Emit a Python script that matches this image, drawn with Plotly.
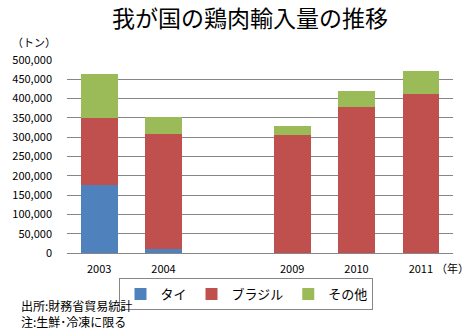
import plotly.graph_objects as go

# Chicken meat imports (tonnes); the blank slot separates 2004 from 2009
years = ["2003", "2004", " ", "2009", "2010", "2011"]
thai = [175000, 10000, None, 0, 0, 0]
brazil = [175000, 298000, None, 306000, 378000, 412000]
other = [114000, 44000, None, 23000, 42000, 59000]

series_names = ["タイ", "ブラジル", "その他"]
colors = ["#4F81BD", "#C0504D", "#9BBB59"]

y_ticks = list(range(0, 500001, 50000))
y_tick_text = [f"{v:,}" for v in y_ticks]

FONT = "Noto Sans CJK JP"

fig = go.Figure()
for name, vals, col in zip(series_names, [thai, brazil, other], colors):
    fig.add_trace(go.Bar(x=years, y=vals, name=name, marker=dict(color=col, line=dict(width=0)),
                         width=0.57))

fig.update_layout(
    barmode="stack",
    width=475, height=329,
    margin=dict(l=64, r=22, t=60, b=76),
    paper_bgcolor="white", plot_bgcolor="white",
    font=dict(family=FONT, size=11, color="#000000"),
    title=dict(text="我が国の鶏肉輸入量の推移", x=250 / 475, xanchor="center",
               y=1 - 19 / 329, yanchor="middle",
               font=dict(family=FONT, size=23, color="#000000")),
    showlegend=True,
    legend=dict(orientation="h", x=0.465, xanchor="center", y=-0.13, yanchor="top",
                bordercolor="#868686", borderwidth=1, font=dict(size=13, family=FONT),
                itemwidth=30, traceorder="normal", tracegroupgap=0),
    bargap=0.43,
)

fig.update_xaxes(type="category", categoryorder="array", categoryarray=years,
                 range=[-0.5, 5.5], showline=True, linecolor="#868686", linewidth=1,
                 showgrid=False, ticks="", tickfont=dict(size=11, family=FONT),
                 ticklabelstandoff=6, fixedrange=True)
fig.update_yaxes(range=[0, 500000], tickvals=y_ticks, ticktext=y_tick_text,
                 showgrid=True, gridcolor="#868686", gridwidth=1, showline=False,
                 zeroline=True, zerolinecolor="#868686", zerolinewidth=1,
                 ticks="", tickfont=dict(size=11, family=FONT), ticklabelstandoff=14,
                 fixedrange=True)

# Unit labels and source notes
fig.add_annotation(text="（トン）", xref="paper", yref="paper", x=(31 - 64) / 389,
                   y=(253 - 42) / 193, xanchor="center", yanchor="middle",
                   showarrow=False, font=dict(size=11, family=FONT))
fig.add_annotation(text="（年）", xref="paper", yref="paper", x=(452 - 64) / 389,
                   y=(253 - 268) / 193, xanchor="center", yanchor="middle",
                   showarrow=False, font=dict(size=11, family=FONT))
fig.add_annotation(text="出所:財務省貿易統計", xref="paper", yref="paper",
                   x=(16 - 64) / 389, y=(253 - 305) / 193, xanchor="left", yanchor="middle",
                   showarrow=False, font=dict(size=12, family=FONT))
fig.add_annotation(text="注:生鮮･冷凍に限る", xref="paper", yref="paper",
                   x=(16 - 64) / 389, y=(253 - 321) / 193, xanchor="left", yanchor="middle",
                   showarrow=False, font=dict(size=12, family=FONT))

fig.write_html("out.html")
